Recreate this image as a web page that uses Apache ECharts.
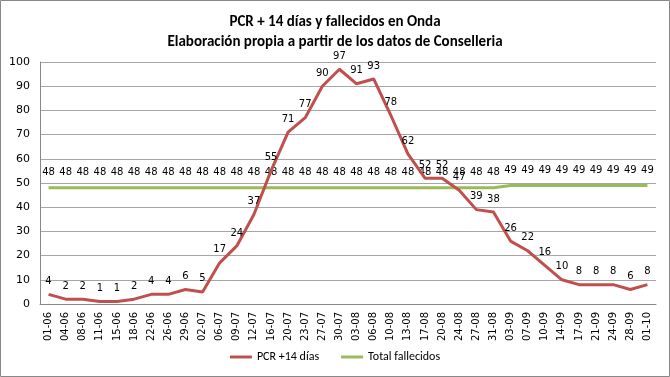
<!DOCTYPE html>
<html>
<head>
<meta charset="utf-8">
<script src="https://cdn.jsdelivr.net/npm/echarts@6/dist/echarts.min.js"></script>
<style>
  html, body { margin: 0; padding: 0; background: #fff; }
  #chart { width: 670px; height: 377px; }
</style>
</head>
<body>
<div id="chart"></div>
<script>
var fechas = ['01-06', '04-06', '08-06', '11-06', '15-06', '18-06', '22-06', '26-06', '29-06',
  '02-07', '06-07', '09-07', '12-07', '16-07', '20-07', '23-07', '27-07', '30-07',
  '03-08', '06-08', '10-08', '13-08', '17-08', '20-08', '24-08', '27-08', '31-08',
  '03-09', '07-09', '10-09', '14-09', '17-09', '21-09', '24-09', '28-09', '01-10'];

var pcr14 = [4, 2, 2, 1, 1, 2, 4, 4, 6, 5, 17, 24, 37, 55, 71, 77, 90, 97,
  91, 93, 78, 62, 52, 52, 47, 39, 38, 26, 22, 16, 10, 8, 8, 8, 6, 8];

var fallecidos = [48, 48, 48, 48, 48, 48, 48, 48, 48, 48, 48, 48, 48, 48, 48, 48, 48, 48,
  48, 48, 48, 48, 48, 48, 48, 48, 48, 49, 49, 49, 49, 49, 49, 49, 49, 49];

var txtFont = 'DejaVu Sans';
var titleFont = 'Carlito, Lato, sans-serif';

var myChart = echarts.init(document.getElementById('chart'));

// etiquetas de datos como en excel
function etiqueta(dist) {
  return {
    show: true,
    position: 'top',
    distance: dist,
    fontFamily: txtFont,
    fontSize: 10,
    color: '#000'
  };
}

var option = {
  animation: false,
  backgroundColor: '#fff',
  title: {
    text: 'PCR + 14 días y fallecidos en Onda\nElaboración propia a partir de los datos de Conselleria',
    left: 'center',
    top: 7,
    textStyle: {
      fontFamily: titleFont,
      fontWeight: 'bold',
      fontSize: 15,
      lineHeight: 20,
      color: '#000'
    }
  },
  graphic: [{
    type: 'rect',
    shape: { x: 0.5, y: 0.5, width: 669, height: 376 },
    style: { fill: 'none', stroke: '#888', lineWidth: 1 },
    silent: true
  }],
  legend: {
    bottom: 9,
    left: 'center',
    itemWidth: 22,
    itemHeight: 3,
    itemGap: 22,
    icon: 'rect',
    textStyle: { fontFamily: titleFont, fontSize: 12, color: '#000' },
    data: ['PCR +14 días', 'Total fallecidos']
  },
  grid: { left: 40, right: 14, top: 62, bottom: 73 },
  xAxis: {
    type: 'category',
    data: fechas,
    boundaryGap: true,
    axisLine: { lineStyle: { color: '#888' } },
    axisTick: { show: false },
    axisLabel: {
      rotate: 90,
      interval: 0,
      margin: 8,
      fontFamily: txtFont,
      fontSize: 10,
      color: '#000'
    }
  },
  yAxis: {
    type: 'value',
    min: 0,
    max: 100,
    interval: 10,
    axisLine: { show: true, lineStyle: { color: '#888' } },
    axisTick: { show: false },
    splitLine: { lineStyle: { color: '#a6a6a6' } },
    axisLabel: { fontFamily: txtFont, fontSize: 11, color: '#000', margin: 10 }
  },
  series: [
    {
      name: 'PCR +14 días',
      type: 'line',
      data: pcr14,
      symbol: 'circle',
      symbolSize: 0,
      showAllSymbol: true,
      color: '#C0504D',
      lineStyle: { width: 3, color: '#C0504D' },
      label: etiqueta(8),
      labelLayout: { hideOverlap: false },
      z: 3
    },
    {
      name: 'Total fallecidos',
      type: 'line',
      data: fallecidos,
      symbol: 'circle',
      symbolSize: 0,
      showAllSymbol: true,
      color: '#9BBB59',
      lineStyle: { width: 3, color: '#9BBB59' },
      label: etiqueta(10),
      labelLayout: { hideOverlap: false },
      z: 2
    }
  ]
};

myChart.setOption(option);
</script>
</body>
</html>
